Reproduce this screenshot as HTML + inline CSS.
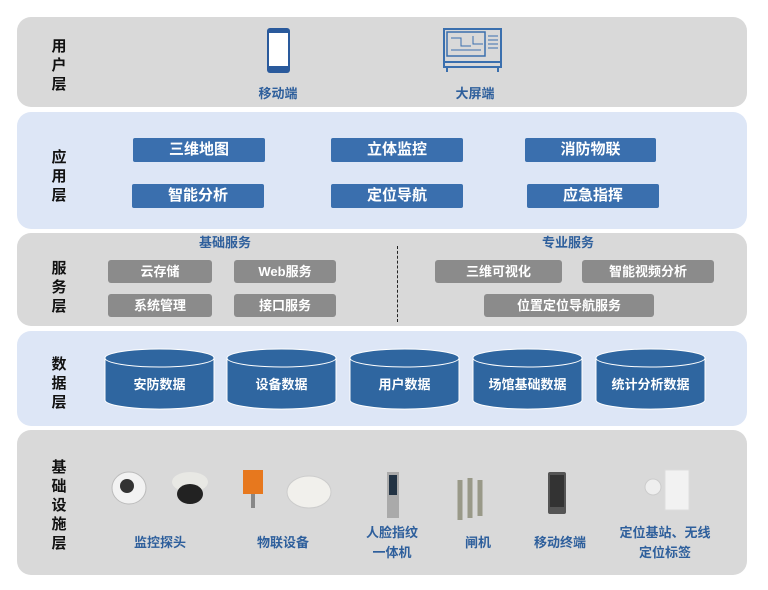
<!DOCTYPE html>
<html><head><meta charset="utf-8"><style>
*{margin:0;padding:0;box-sizing:border-box}
body{width:768px;height:590px;background:#fff;position:relative;font-family:"Liberation Sans","Noto Sans CJK SC",sans-serif;overflow:hidden}
.l{position:absolute;left:17px;width:730px;border-radius:14px}
.g{background:#d9d9d9}.b{background:#dde6f6}
.v{position:absolute;left:50px;width:18px;font-weight:bold;font-size:15px;line-height:19px;color:#111;text-align:center}
.a{position:absolute;height:24px;background:#3a6fae;color:#fff;font-size:15px;font-weight:bold;line-height:24px;text-align:center;border-radius:2px}
.s{position:absolute;height:23px;background:#8b8b8b;color:#fff;font-size:13px;line-height:23px;text-align:center;border-radius:3px;font-weight:bold}
.t{position:absolute;color:#2e5f9c;font-size:13px;font-weight:bold;text-align:center;line-height:17px}
.c{position:absolute;top:348px;width:111px;height:62px}
.c span{position:absolute;left:0;right:0;top:26px;color:#fff;font-size:13px;font-weight:bold;text-align:center}
</style></head><body>
<div class="l g" style="top:17px;height:90px"></div>
<div class="l b" style="top:112px;height:117px"></div>
<div class="l g" style="top:233px;height:93px"></div>
<div class="l b" style="top:331px;height:95px"></div>
<div class="l g" style="top:430px;height:145px"></div>

<div class="v" style="top:37px">用<br>户<br>层</div>
<div class="v" style="top:148px">应<br>用<br>层</div>
<div class="v" style="top:259px">服<br>务<br>层</div>
<div class="v" style="top:355px">数<br>据<br>层</div>
<div class="v" style="top:458px">基<br>础<br>设<br>施<br>层</div>

<svg style="position:absolute;left:266px;top:27px" width="25" height="47"><rect x="1" y="1" width="23" height="45" rx="3" fill="#2a5a9c"/><rect x="3" y="6" width="19" height="33" fill="#fff"/></svg>
<svg style="position:absolute;left:443px;top:28px" width="59" height="45"><rect x="1" y="1" width="57" height="38" fill="none" stroke="#3a6fae" stroke-width="2"/><rect x="4" y="4" width="38" height="24" fill="none" stroke="#3a6fae" stroke-width="1.5"/><path d="M8 10h10v8h10M8 22h30M30 8v8h10" stroke="#3a6fae" fill="none"/><path d="M45 8h10M45 12h10M45 16h10M45 20h10" stroke="#3a6fae"/><path d="M1 34h57M4 39v5M55 39v5" stroke="#3a6fae" stroke-width="2"/></svg>
<div class="t" style="left:248px;top:85px;width:60px">移动端</div>
<div class="t" style="left:445px;top:85px;width:60px">大屏端</div>

<div class="a" style="left:133px;top:138px;width:132px">三维地图</div>
<div class="a" style="left:331px;top:138px;width:132px">立体监控</div>
<div class="a" style="left:525px;top:138px;width:131px">消防物联</div>
<div class="a" style="left:132px;top:184px;width:132px">智能分析</div>
<div class="a" style="left:331px;top:184px;width:132px">定位导航</div>
<div class="a" style="left:527px;top:184px;width:132px">应急指挥</div>

<div class="t" style="left:175px;top:234px;width:100px">基础服务</div>
<div class="t" style="left:518px;top:234px;width:100px">专业服务</div>
<div style="position:absolute;left:397px;top:246px;height:76px;border-left:1px dashed #222"></div>
<div class="s" style="left:108px;top:260px;width:104px">云存储</div>
<div class="s" style="left:234px;top:260px;width:102px">Web服务</div>
<div class="s" style="left:108px;top:294px;width:104px">系统管理</div>
<div class="s" style="left:234px;top:294px;width:102px">接口服务</div>
<div class="s" style="left:435px;top:260px;width:127px">三维可视化</div>
<div class="s" style="left:582px;top:260px;width:132px">智能视频分析</div>
<div class="s" style="left:484px;top:294px;width:170px">位置定位导航服务</div>

<div class="c" style="left:104px"><svg width="111" height="62"><path d="M1 10v42a54 9 0 0 0 109 0V10z" fill="#2f66a0" stroke="#fff"/><ellipse cx="55.5" cy="10" rx="54.5" ry="9" fill="#2f66a0" stroke="#fff"/></svg><span>安防数据</span></div>
<div class="c" style="left:226px"><svg width="111" height="62"><path d="M1 10v42a54 9 0 0 0 109 0V10z" fill="#2f66a0" stroke="#fff"/><ellipse cx="55.5" cy="10" rx="54.5" ry="9" fill="#2f66a0" stroke="#fff"/></svg><span>设备数据</span></div>
<div class="c" style="left:349px"><svg width="111" height="62"><path d="M1 10v42a54 9 0 0 0 109 0V10z" fill="#2f66a0" stroke="#fff"/><ellipse cx="55.5" cy="10" rx="54.5" ry="9" fill="#2f66a0" stroke="#fff"/></svg><span>用户数据</span></div>
<div class="c" style="left:472px"><svg width="111" height="62"><path d="M1 10v42a54 9 0 0 0 109 0V10z" fill="#2f66a0" stroke="#fff"/><ellipse cx="55.5" cy="10" rx="54.5" ry="9" fill="#2f66a0" stroke="#fff"/></svg><span>场馆基础数据</span></div>
<div class="c" style="left:595px"><svg width="111" height="62"><path d="M1 10v42a54 9 0 0 0 109 0V10z" fill="#2f66a0" stroke="#fff"/><ellipse cx="55.5" cy="10" rx="54.5" ry="9" fill="#2f66a0" stroke="#fff"/></svg><span>统计分析数据</span></div>

<svg style="position:absolute;left:105px;top:460px" width="600" height="60">
<ellipse cx="24" cy="28" rx="17" ry="16" fill="#f2f2f2" stroke="#bbb"/><circle cx="22" cy="26" r="7" fill="#333"/>
<ellipse cx="85" cy="22" rx="18" ry="10" fill="#e8e8e4"/><ellipse cx="85" cy="34" rx="13" ry="10" fill="#222"/>
<rect x="138" y="10" width="20" height="24" fill="#e7781e"/><rect x="146" y="34" width="4" height="14" fill="#888"/>
<ellipse cx="204" cy="32" rx="22" ry="16" fill="#f1f0ec" stroke="#ccc"/>
<rect x="282" y="12" width="12" height="46" fill="#aaa"/><rect x="284" y="15" width="8" height="20" fill="#234"/>
<path d="M355 20v40M365 18v40M375 20v36" stroke="#998" stroke-width="5"/>
<rect x="443" y="12" width="18" height="42" rx="2" fill="#555"/><rect x="445" y="15" width="14" height="32" fill="#333"/>
<circle cx="548" cy="27" r="8" fill="#eee" stroke="#ccc"/><rect x="560" y="10" width="24" height="40" fill="#f2f2f2" stroke="#ddd"/>
</svg>
<div class="t" style="left:120px;top:534px;width:80px">监控探头</div>
<div class="t" style="left:243px;top:534px;width:80px">物联设备</div>
<div class="t" style="left:352px;top:523px;width:80px;line-height:20px">人脸指纹<br>一体机</div>
<div class="t" style="left:448px;top:534px;width:60px">闸机</div>
<div class="t" style="left:520px;top:534px;width:80px">移动终端</div>
<div class="t" style="left:605px;top:523px;width:120px;line-height:20px">定位基站、无线<br>定位标签</div>
</body></html>
